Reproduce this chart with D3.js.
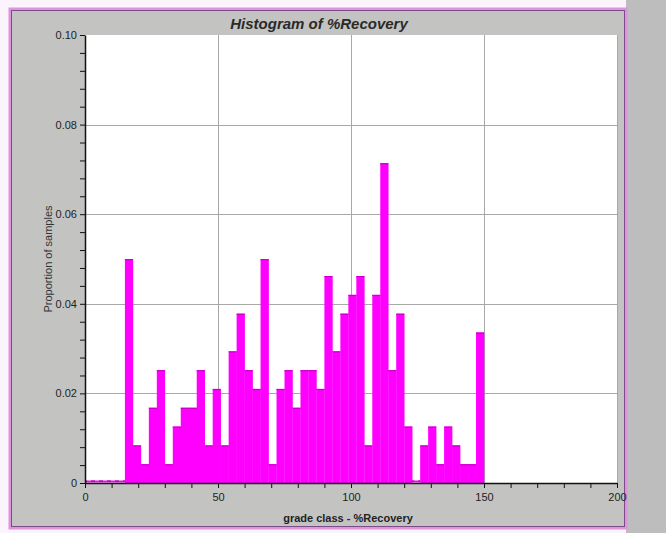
<!DOCTYPE html>
<html>
<head>
<meta charset="utf-8">
<script src="https://cdn.jsdelivr.net/npm/d3@7"></script>
<style>
  body { margin: 0; background: #fff; }
  svg { display: block; font-family: Arial, "Liberation Sans", sans-serif; }
</style>
</head>
<body>
<script>
// bin starts (width 3) and proportion of samples in each bin
const binWidth = 3;
const binStarts = d3.range(0, 150, binWidth);
const proportions = [
  0, 0, 0, 0, 0,
  0.050, 0.0084, 0.0042, 0.0168, 0.0252, 0.0042, 0.0126, 0.0168, 0.0168, 0.0252,
  0.0084, 0.021, 0.0084, 0.0294, 0.0378, 0.0252, 0.021, 0.050, 0.0042, 0.021,
  0.0252, 0.0168, 0.0252, 0.0252, 0.021, 0.0462, 0.0294, 0.0378, 0.042, 0.0462,
  0.0084, 0.042, 0.0714, 0.0252, 0.0378, 0.0126, 0, 0.0084, 0.0126, 0.0042,
  0.0126, 0.0084, 0.0042, 0.0042, 0.0336
];
const xTicks = d3.range(0, 201, 10);          // minor every 10, label every 50
const xLabels = [0, 50, 100, 150, 200];
const yTicks = d3.range(0, 26).map(i => i * 0.004); // minor every 0.004
const yLabels = ["0", "0.02", "0.04", "0.06", "0.08", "0.10"];

const data = binStarts.map((x0, i) => ({x0, x1: x0 + binWidth, value: proportions[i]}));

const width = 666, height = 533;
const x = d3.scaleLinear([0, 200], [85, 617]);
const y = d3.scaleLinear([0, 0.1], [483, 35]);

const svg = d3.select("body").append("svg")
    .attr("width", width)
    .attr("height", height);

// background + frame
svg.append("rect").attr("width", width).attr("height", height).attr("fill", "#fcf4fc");
svg.append("rect").attr("x", 626).attr("y", 0).attr("width", 40).attr("height", height).attr("fill", "#bdbdbd");
svg.append("rect")
    .attr("x", 10).attr("y", 9).attr("width", 616).attr("height", 519)
    .attr("fill", "#c3c4c2")
    .attr("stroke", "#dc94dc")
    .attr("stroke-width", 3);
svg.append("rect")
    .attr("x", 11.5).attr("y", 10.5).attr("width", 613).attr("height", 516)
    .attr("fill", "none")
    .attr("stroke", "#7a4c88")
    .attr("stroke-width", 1);

// plot area
svg.append("rect")
    .attr("x", x(0)).attr("y", y(0.1))
    .attr("width", x(200) - x(0)).attr("height", y(0) - y(0.1))
    .attr("fill", "#fff");

// grid
svg.append("g")
    .attr("stroke", "#a8a8a8")
    .attr("stroke-width", 1)
  .selectAll("line.v")
  .data([50, 100, 150, 200])
  .join("line")
    .attr("x1", d => Math.round(x(d)) + 0.5).attr("x2", d => Math.round(x(d)) + 0.5)
    .attr("y1", y(0.1)).attr("y2", y(0));
svg.append("g")
    .attr("stroke", "#a8a8a8")
    .attr("stroke-width", 1)
  .selectAll("line")
  .data([0.02, 0.04, 0.06, 0.08])
  .join("line")
    .attr("x1", x(0)).attr("x2", x(200))
    .attr("y1", d => Math.round(y(d)) + 0.5).attr("y2", d => Math.round(y(d)) + 0.5);

// bars
const bars = data.filter(d => d.value > 0);
svg.append("g")
    .attr("fill", "#ff00ff")
  .selectAll("rect")
  .data(bars)
  .join("rect")
    .attr("x", d => x(d.x0))
    .attr("y", d => y(d.value))
    .attr("width", d => x(d.x1) - x(d.x0) + 0.3)
    .attr("height", d => y(0) - y(d.value));

// darker top edge of each bar
svg.append("g")
    .attr("stroke", "#c800c8")
    .attr("stroke-width", 1.2)
  .selectAll("line")
  .data(bars)
  .join("line")
    .attr("x1", d => x(d.x0)).attr("x2", d => x(d.x1))
    .attr("y1", d => y(d.value) + 0.6).attr("y2", d => y(d.value) + 0.6);

// empty bins drawn as a thin dotted strip on the baseline
svg.append("g")
  .selectAll("line")
  .data(data.filter(d => d.value === 0))
  .join("line")
    .attr("x1", d => x(d.x0)).attr("x2", d => x(d.x1))
    .attr("y1", y(0) - 1.5).attr("y2", y(0) - 1.5)
    .attr("stroke", "#ff00ff")
    .attr("stroke-width", 2);
svg.append("g")
  .selectAll("line")
  .data(data.filter(d => d.value === 0))
  .join("line")
    .attr("x1", d => x(d.x0)).attr("x2", d => x(d.x1))
    .attr("y1", y(0) - 2).attr("y2", y(0) - 2)
    .attr("stroke", "#800080")
    .attr("stroke-width", 1)
    .attr("stroke-dasharray", "2,4");

// axes
const xAxis = g => g
    .attr("transform", `translate(0,${y(0)})`)
    .call(d3.axisBottom(x)
        .tickValues(xTicks)
        .tickSize(5)
        .tickSizeOuter(0)
        .tickFormat(d => xLabels.includes(d) ? d : ""))
    .call(g => g.select(".domain").attr("stroke", "#111").attr("stroke-width", 1.5))
    .call(g => g.selectAll(".tick line").attr("stroke", "#111"))
    .call(g => g.selectAll("text")
        .attr("fill", "#222")
        .attr("font-size", 11)
        .attr("dy", "0.9em"));

const yAxis = g => g
    .attr("transform", `translate(${x(0)},0)`)
    .call(d3.axisLeft(y)
        .tickValues(yTicks)
        .tickSize(5)
        .tickSizeOuter(0)
        .tickFormat((d, i) => i % 5 === 0 ? yLabels[i / 5] : ""))
    .call(g => g.select(".domain").attr("stroke", "#111").attr("stroke-width", 1.5))
    .call(g => g.selectAll(".tick line").attr("stroke", "#111"))
    .call(g => g.selectAll("text")
        .attr("fill", "#222")
        .attr("font-size", 11));

svg.append("g").call(xAxis);
svg.append("g").call(yAxis);

// titles
svg.append("text")
    .attr("x", 319).attr("y", 29)
    .attr("text-anchor", "middle")
    .attr("font-size", 15)
    .attr("font-weight", "bold")
    .attr("font-style", "italic")
    .attr("fill", "#2a2a2a")
    .text("Histogram of %Recovery");

svg.append("text")
    .attr("x", 348).attr("y", 522)
    .attr("text-anchor", "middle")
    .attr("font-size", 11)
    .attr("font-weight", "bold")
    .attr("fill", "#222")
    .text("grade class - %Recovery");

svg.append("text")
    .attr("transform", `translate(52,${(y(0) + y(0.1)) / 2}) rotate(-90)`)
    .attr("text-anchor", "middle")
    .attr("font-size", 11)
    .attr("fill", "#333")
    .text("Proportion of samples");
</script>
</body>
</html>
